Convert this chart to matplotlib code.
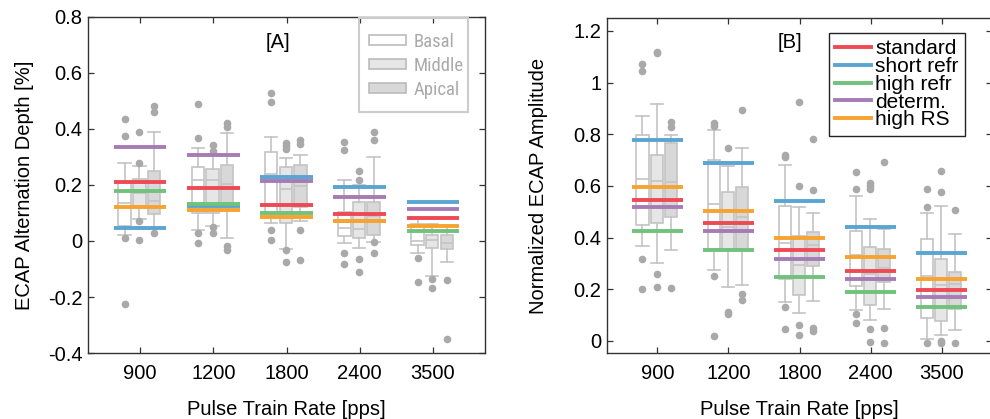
import matplotlib
matplotlib.use("Agg")
import matplotlib.pyplot as plt
from matplotlib import font_manager
from matplotlib.font_manager import FontProperties
from matplotlib.lines import Line2D
from matplotlib.patches import Patch, Rectangle

RATES = ["900", "1200", "1800", "2400", "3500"]
REGIONS = ["Basal", "Middle", "Apical"]
MODELS = ["standard", "short refr", "high refr", "determ.", "high RS"]

# box stats per rate: (whislo, q1, med, q3, whishi)
# ---- panel A: alternation depth
A_BASAL = [(0.02, 0.054, 0.135, 0.21, 0.28), (0.04, 0.10, 0.218, 0.265, 0.333),
           (0.065, 0.10, 0.24, 0.317, 0.37), (-0.006, 0.018, 0.047, 0.105, 0.218),
           (-0.044, -0.014, 0.0, 0.06, 0.08)]
A_BASAL_OUT = [[0.436, 0.375, 0.01, -0.225], [0.489, 0.369, 0.03, -0.008],
               [0.527, 0.495, 0.039, 0.004], [0.355, 0.325, -0.044, -0.081],
               [-0.06, -0.146]]
A_MIDDLE = [(0.08, 0.12, 0.17, 0.22, 0.268), (0.055, 0.10, 0.218, 0.257, 0.31),
            (-0.03, 0.065, 0.185, 0.265, 0.297), (-0.026, 0.01, 0.042, 0.138, 0.2),
            (-0.125, -0.025, 0.004, 0.02, 0.06)]
A_MIDDLE_OUT = [[0.388, 0.28, 0.07, 0.005], [0.343, 0.32, 0.05, 0.03],
                [0.35, 0.34, 0.33, -0.032, -0.075], [0.251, 0.218, -0.065, -0.112],
                [-0.135, -0.168]]
A_APICAL = [(0.045, 0.095, 0.144, 0.251, 0.388), (0.01, 0.11, 0.204, 0.27, 0.387),
            (0.07, 0.123, 0.196, 0.271, 0.307), (-0.005, 0.02, 0.09, 0.138, 0.30),
            (-0.076, -0.029, -0.008, 0.02, 0.055)]
A_APICAL_OUT = [[0.482, 0.462, 0.03], [0.42, 0.408, -0.017, -0.032],
                [0.36, 0.345, 0.04, -0.068], [0.39, 0.36, -0.002, -0.044],
                [-0.139, -0.351]]

A_STANDARD = [0.21, 0.19, 0.13, 0.097, 0.081]
A_SHORT_REFR = [0.047, 0.125, 0.227, 0.194, 0.139]
A_HIGH_REFR = [0.18, 0.132, 0.099, 0.073, 0.035]
A_DETERM = [0.337, 0.308, 0.216, 0.158, 0.113]
A_HIGH_RS = [0.12, 0.112, 0.087, 0.072, 0.055]

# ---- panel B: normalized amplitude
B_BASAL = [(0.367, 0.45, 0.628, 0.797, 0.87), (0.275, 0.357, 0.53, 0.70, 0.817),
           (0.152, 0.24, 0.38, 0.524, 0.68), (0.12, 0.211, 0.333, 0.427, 0.561),
           (0.007, 0.088, 0.252, 0.395, 0.497)]
B_BASAL_OUT = [[1.072, 1.046, 0.316, 0.2], [0.843, 0.83, 0.25, 0.019],
               [0.72, 0.711, 0.133, 0.046], [0.654, 0.589, 0.104, 0.068],
               [0.588, 0.52, -0.01]]
B_MIDDLE = [(0.303, 0.455, 0.62, 0.721, 0.916), (0.208, 0.357, 0.442, 0.575, 0.677),
            (0.107, 0.178, 0.294, 0.406, 0.517), (0.081, 0.139, 0.258, 0.365, 0.471),
            (0.023, 0.077, 0.218, 0.316, 0.523)]
B_MIDDLE_OUT = [[1.119, 1.114, 0.26, 0.208], [0.746, 0.113, 0.104],
                [0.926, 0.601, 0.062, 0.023], [0.613, 0.6, 0.587, 0.045, -0.006],
                [0.659, 0.576, 0.0, -0.01]]
B_APICAL = [(0.35, 0.48, 0.617, 0.765, 0.797), (0.217, 0.357, 0.481, 0.595, 0.745),
            (0.155, 0.288, 0.372, 0.422, 0.497), (0.125, 0.227, 0.281, 0.356, 0.432),
            (0.043, 0.123, 0.22, 0.268, 0.413)]
B_APICAL_OUT = [[0.849, 0.827, 0.205], [0.894, 0.182, 0.159],
                [0.78, 0.584, 0.05, 0.04], [0.693, 0.05, -0.01],
                [0.507, -0.01]]

B_STANDARD = [0.547, 0.458, 0.353, 0.27, 0.198]
B_SHORT_REFR = [0.779, 0.689, 0.543, 0.442, 0.342]
B_HIGH_REFR = [0.427, 0.35, 0.249, 0.19, 0.133]
B_DETERM = [0.52, 0.427, 0.318, 0.241, 0.171]
B_HIGH_RS = [0.597, 0.503, 0.40, 0.324, 0.241]

A_YTICKS = [-0.4, -0.2, 0, 0.2, 0.4, 0.6, 0.8]
B_YTICKS = [0, 0.2, 0.4, 0.6, 0.8, 1, 1.2]

MODEL_COLORS = ["#ee4a55", "#5aa5d2", "#70c27c", "#a77bb5", "#f8a330"]
BOX_FILLS = ["#ffffff", "#e6e6e6", "#d8d8d8"]
EDGE = "#c4c4c4"
FLIER = "#a9a9a9"
OFFSETS = [-0.21, -0.01, 0.19]
FS = 14.5

plt.rcParams["font.family"] = ["Liberation Sans", "DejaVu Sans"]
plt.rcParams["axes.unicode_minus"] = False


def condensed_font(size):
    # the region legend uses a narrow face; take whatever condensed font is installed
    fonts = font_manager.fontManager.ttflist
    for key in ("Liberation Sans Narrow", "Roboto Condensed", "Open Sans Condensed",
                "Noto Sans Condensed"):
        for f in fonts:
            if f.name == key and f.weight in (400, "normal", "regular") and f.style == "normal":
                return FontProperties(fname=f.fname, size=size), True
    for f in fonts:
        if str(f.stretch) in ("condensed", "semi-condensed") and f.style == "normal" \
                and f.weight in (400, "normal", "regular"):
            return FontProperties(fname=f.fname, size=size), True
    return FontProperties(family="Liberation Sans", size=size * 0.8), False


def box_stats(rows, outs):
    return [dict(whislo=r[0], q1=r[1], med=r[2], q3=r[3], whishi=r[4], fliers=o)
            for r, o in zip(rows, outs)]


def draw_panel(ax, boxes, models, yticks, ylim):
    base = list(range(1, len(RATES) + 1))
    for k, (rows, outs) in enumerate(boxes):
        pos = [b + OFFSETS[k] for b in base]
        ax.bxp(box_stats(rows, outs), positions=pos, widths=0.17, capwidths=0.17,
               patch_artist=True,
               boxprops=dict(facecolor=BOX_FILLS[k], edgecolor=EDGE, linewidth=1.2),
               medianprops=dict(color=EDGE, linewidth=1.2),
               whiskerprops=dict(color=EDGE, linewidth=1.2),
               capprops=dict(color=EDGE, linewidth=1.2),
               flierprops=dict(marker="o", markerfacecolor=FLIER, markeredgecolor="none",
                               markersize=5.5))
    for vals, c in zip(models, MODEL_COLORS):
        ax.hlines(vals, [b - 0.36 for b in base], [b + 0.36 for b in base],
                  color=c, lw=2.8, zorder=5)
    ax.set_xlim(0.29, 5.71)
    ax.set_ylim(*ylim)
    ax.set_xticks(base)
    ax.set_xticklabels(RATES, fontsize=FS)
    ax.set_yticks(yticks)
    ax.set_yticklabels(["%g" % t for t in yticks], fontsize=FS)
    ax.tick_params(direction="in", top=True, right=True, length=4, width=0.9,
                   color="#333333")
    ax.tick_params(axis="x", pad=8)
    ax.tick_params(axis="y", pad=4)
    for s in ax.spines.values():
        s.set_color("#333333")
        s.set_linewidth(1.0)
    ax.set_xlabel("Pulse Train Rate [pps]", fontsize=FS, labelpad=12)


fig = plt.figure(figsize=(9.9, 4.19), dpi=100)
axA = fig.add_axes([0.0889, 0.1575, 0.401, 0.802])
axB = fig.add_axes([0.6131, 0.1575, 0.389, 0.7995])

draw_panel(axA, [(A_BASAL, A_BASAL_OUT), (A_MIDDLE, A_MIDDLE_OUT), (A_APICAL, A_APICAL_OUT)],
           [A_STANDARD, A_SHORT_REFR, A_HIGH_REFR, A_DETERM, A_HIGH_RS], A_YTICKS, (-0.4, 0.8))
draw_panel(axB, [(B_BASAL, B_BASAL_OUT), (B_MIDDLE, B_MIDDLE_OUT), (B_APICAL, B_APICAL_OUT)],
           [B_STANDARD, B_SHORT_REFR, B_HIGH_REFR, B_DETERM, B_HIGH_RS], B_YTICKS, (-0.047, 1.25))

axA.set_ylabel("ECAP Alternation Depth [%]", fontsize=FS, labelpad=10)
axB.set_ylabel("Normalized ECAP Amplitude", fontsize=FS, labelpad=18)
axA.text(2.88, 0.71, "[A]", fontsize=FS, ha="center", va="center")
axB.text(2.87, 1.157, "[B]", fontsize=FS, ha="center", va="center")

# region legend (panel A), faded grey like the original; frame drawn separately
prop, is_narrow = condensed_font(13.5)
reg_handles = [Patch(facecolor=f, edgecolor="#bbbbbb", linewidth=1.2) for f in BOX_FILLS]
legA = axA.legend(reg_handles, REGIONS, loc="upper left", bbox_to_anchor=(0.708, 0.952),
                  borderaxespad=0, frameon=False, prop=prop,
                  handlelength=2.4 if not is_narrow else 1.95,
                  handleheight=0.45, handletextpad=0.4, labelspacing=0.31, borderpad=0)
for t in legA.get_texts():
    t.set_color("#aaaaaa")
axA.add_patch(Rectangle((0.6826, 0.717), 0.2745, 0.28, transform=axA.transAxes,
                        facecolor="none", edgecolor="#cccccc", linewidth=1.5, zorder=6,
                        clip_on=False))

# model legend (panel B)
mod_handles = [Line2D([], [], color=c, lw=2.8) for c in MODEL_COLORS]
legB = axB.legend(mod_handles, MODELS, loc="upper left", bbox_to_anchor=(0.577, 0.955),
                  borderaxespad=0, fancybox=False, framealpha=1, edgecolor="#222222",
                  fontsize=15, handlelength=1.7, handletextpad=0.2, labelspacing=-0.06,
                  borderpad=0.3)
legB.get_frame().set_linewidth(1.0)

fig.savefig("out.png", dpi=100)
